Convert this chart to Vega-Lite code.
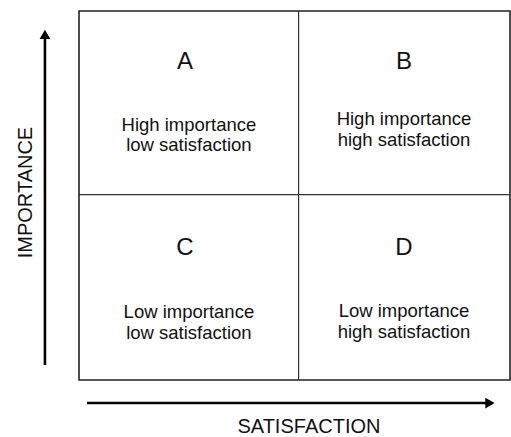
{
  "$schema": "https://vega.github.io/schema/vega-lite/v6.json",
  "width": 431,
  "height": 369,
  "autosize": {"type": "none"},
  "padding": {"left": 79, "top": 11, "right": 1, "bottom": 57},
  "background": "white",
  "config": {
    "view": {"stroke": "#222", "strokeWidth": 1.6},
    "text": {"font": "Liberation Sans", "color": "#111"}
  },
  "datasets": {
    "dividers": [
      {"x": 1.019, "x2": 1.019, "y": 0, "y2": 2},
      {"x": 0, "x2": 2, "y": 1.005, "y2": 1.005}
    ],
    "shafts": [
      {"axis": "importance", "x": -0.158, "x2": -0.158, "y": 0.081, "y2": 1.87},
      {"axis": "satisfaction", "x": 0.037, "x2": 1.91, "y": -0.125, "y2": -0.125}
    ],
    "heads": [
      {"axis": "importance", "dir": "up", "x": -0.158, "y": 1.873},
      {"axis": "satisfaction", "dir": "right", "x": 1.907, "y": -0.125}
    ],
    "quadrants": [
      {"letter": "A", "lx": 0.492, "ly": 1.686, "desc": "High importance\nlow satisfaction", "dx": 0.51, "dy": 1.35},
      {"letter": "B", "lx": 1.508, "ly": 1.686, "desc": "High importance\nhigh satisfaction", "dx": 1.508, "dy": 1.382},
      {"letter": "C", "lx": 0.492, "ly": 0.678, "desc": "Low importance\nlow satisfaction", "dx": 0.51, "dy": 0.336},
      {"letter": "D", "lx": 1.508, "ly": 0.678, "desc": "Low importance\nhigh satisfaction", "dx": 1.508, "dy": 0.341}
    ],
    "titles": [
      {"title": "IMPORTANCE", "x": -0.218, "y": 1.016},
      {"title": "SATISFACTION", "x": 1.067, "y": -0.287}
    ]
  },
  "layer": [
    {
      "data": {"name": "dividers"},
      "mark": {"type": "rule", "color": "#333", "strokeWidth": 1.2},
      "encoding": {
        "x": {"field": "x", "type": "quantitative", "scale": {"domain": [0, 2], "nice": false, "zero": false}, "axis": null},
        "x2": {"field": "x2"},
        "y": {"field": "y", "type": "quantitative", "scale": {"domain": [0, 2], "nice": false, "zero": false}, "axis": null},
        "y2": {"field": "y2"}
      }
    },
    {
      "data": {"name": "shafts"},
      "mark": {"type": "rule", "color": "#000", "strokeWidth": 2.6},
      "encoding": {
        "x": {"field": "x", "type": "quantitative"},
        "x2": {"field": "x2"},
        "y": {"field": "y", "type": "quantitative"},
        "y2": {"field": "y2"}
      }
    },
    {
      "data": {"name": "heads"},
      "mark": {"type": "point", "filled": true, "color": "#000", "size": 115, "opacity": 1},
      "encoding": {
        "x": {"field": "x", "type": "quantitative"},
        "y": {"field": "y", "type": "quantitative"},
        "shape": {"field": "dir", "type": "nominal", "scale": {"domain": ["up", "right"], "range": ["triangle-up", "triangle-right"]}, "legend": null}
      }
    },
    {
      "data": {"name": "quadrants"},
      "mark": {"type": "text", "fontSize": 24, "align": "center", "baseline": "alphabetic"},
      "encoding": {
        "x": {"field": "lx", "type": "quantitative"},
        "y": {"field": "ly", "type": "quantitative"},
        "text": {"field": "letter"}
      }
    },
    {
      "data": {"name": "quadrants"},
      "mark": {"type": "text", "fontSize": 18.5, "align": "center", "baseline": "alphabetic", "lineBreak": "\n", "lineHeight": 20.5},
      "encoding": {
        "x": {"field": "dx", "type": "quantitative"},
        "y": {"field": "dy", "type": "quantitative"},
        "text": {"field": "desc"}
      }
    },
    {
      "data": {"name": "titles"},
      "transform": [{"filter": "datum.title === 'IMPORTANCE'"}],
      "mark": {"type": "text", "fontSize": 20, "align": "center", "baseline": "alphabetic", "angle": 270},
      "encoding": {
        "x": {"field": "x", "type": "quantitative"},
        "y": {"field": "y", "type": "quantitative"},
        "text": {"field": "title"}
      }
    },
    {
      "data": {"name": "titles"},
      "transform": [{"filter": "datum.title === 'SATISFACTION'"}],
      "mark": {"type": "text", "fontSize": 20, "align": "center", "baseline": "alphabetic"},
      "encoding": {
        "x": {"field": "x", "type": "quantitative"},
        "y": {"field": "y", "type": "quantitative"},
        "text": {"field": "title"}
      }
    }
  ]
}
